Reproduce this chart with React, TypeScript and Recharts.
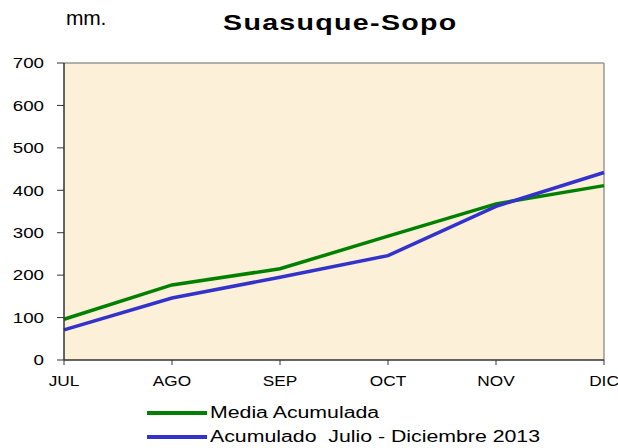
import React from "react";
import { LineChart, Line, XAxis, YAxis, CartesianGrid, ReferenceLine, Legend } from "recharts";

const months = ["JUL", "AGO", "SEP", "OCT", "NOV", "DIC"];
const mediaAcumulada = [96, 177, 215, 292, 368, 411];
const acumulado2013 = [71, 146, 195, 246, 362, 442];
const yTicks = [0, 100, 200, 300, 400, 500, 600, 700];

const data = months.map((m, i) => ({
  month: m,
  media: mediaAcumulada[i],
  acum: acumulado2013[i],
}));

const font = "'Liberation Sans', Arial, sans-serif";

const legendItems = [
  { label: "Media Acumulada", color: "#008000" },
  { label: "Acumulado  Julio - Diciembre 2013", color: "#3333CC" },
];

const LegendContent = () => (
  <div style={{ fontFamily: font }}>
    {legendItems.map((it) => (
      <div key={it.label} style={{ display: "flex", alignItems: "center", height: 24 }}>
        <div style={{ width: 60, height: 4, background: it.color, marginRight: 3 }} />
        <span
          style={{
            fontSize: 16,
            color: "#000",
            whiteSpace: "pre",
            display: "inline-block",
            transform: "scaleX(1.33)",
            transformOrigin: "left center",
          }}
        >
          {it.label}
        </span>
      </div>
    ))}
  </div>
);

const YTick = (props: any) => {
  const { x, y, payload } = props;
  return (
    <text
      x={x}
      y={y}
      dy="0.355em"
      textAnchor="end"
      fontFamily={font}
      fontSize={15}
      fill="#000"
      transform={`translate(${x},0) scale(1.25,1) translate(${-x},0)`}
    >
      {payload.value}
    </text>
  );
};

const XTick = (props: any) => {
  const { x, y, payload } = props;
  return (
    <text
      x={x}
      y={y}
      dy="0.71em"
      textAnchor="middle"
      fontFamily={font}
      fontSize={15}
      fill="#000"
      transform={`translate(${x},0) scale(1.15,1) translate(${-x},0)`}
    >
      {payload.value}
    </text>
  );
};

export default function App() {
  return (
    <div style={{ position: "absolute", left: 0, top: 0, width: 618, height: 448, background: "#fff" }}>
      <div
        style={{
          position: "absolute",
          left: 66,
          top: 7,
          fontFamily: font,
          fontSize: 21,
          lineHeight: "21px",
          letterSpacing: -0.3,
        }}
      >
        mm.
      </div>
      <div
        style={{
          position: "absolute",
          left: 223,
          top: 12,
          fontFamily: font,
          fontSize: 22,
          lineHeight: "22px",
          fontWeight: "bold",
          letterSpacing: 1,
          whiteSpace: "pre",
          transform: "scaleX(1.3)",
          transformOrigin: "left center",
        }}
      >
        Suasuque-Sopo
      </div>
      <LineChart width={618} height={448} data={data} margin={{ top: 63, right: 14, left: 0, bottom: 0 }}>
        <CartesianGrid horizontal={false} vertical={false} fill="#FCF0D8" stroke="none" />
        <ReferenceLine y={700} stroke="#999" strokeWidth={1.5} />
        <ReferenceLine x="DIC" stroke="#999" strokeWidth={1.5} />
        <XAxis
          dataKey="month"
          height={40}
          padding={{ left: 0, right: 0 }}
          tick={<XTick />}
          tickSize={5}
          tickMargin={10}
          axisLine={{ stroke: "#333", strokeWidth: 1.5 }}
          tickLine={{ stroke: "#333" }}
          interval={0}
        />
        <YAxis
          width={64}
          domain={[0, 700]}
          ticks={yTicks}
          interval={0}
          tick={<YTick />}
          tickSize={7}
          tickMargin={13}
          axisLine={{ stroke: "#333", strokeWidth: 1.5 }}
          tickLine={{ stroke: "#333" }}
        />
        <Legend
          content={<LegendContent />}
          wrapperStyle={{ position: "absolute", left: 147, top: 401, width: 440 }}
        />
        <Line dataKey="media" stroke="#008000" strokeWidth={3.5} dot={false} isAnimationActive={false} />
        <Line dataKey="acum" stroke="#3333CC" strokeWidth={3.5} dot={false} isAnimationActive={false} />
      </LineChart>
    </div>
  );
}
